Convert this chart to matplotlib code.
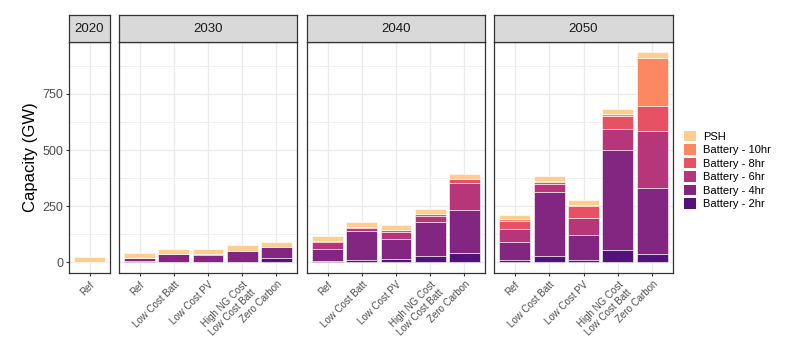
import matplotlib
matplotlib.use('Agg')
import matplotlib.pyplot as plt
from matplotlib.patches import Patch

years = ['2020', '2030', '2040', '2050']
scen_2020 = ['Ref']
scen_future = ['Ref', 'Low Cost Batt', 'Low Cost PV', 'High NG Cost\nLow Cost Batt', 'Zero Carbon']

techs = ['Battery - 2hr', 'Battery - 4hr', 'Battery - 6hr', 'Battery - 8hr', 'Battery - 10hr', 'PSH']
colors = ['#51127C', '#822681', '#B63679', '#E65164', '#FB8861', '#FECE91']

# GW per tech, one list per scenario
bat2 = {'2020': [1], '2030': [5, 3, 3, 4, 18], '2040': [6, 12, 16, 27, 41], '2050': [13, 27, 13, 56, 38]}
bat4 = {'2020': [2], '2030': [13, 34, 32, 49, 50], '2040': [53, 128, 88, 152, 193], '2050': [79, 288, 110, 444, 292]}
bat6 = {'2020': [0], '2030': [0, 0, 2, 0, 1], '2040': [32, 14, 31, 28, 118], '2050': [56, 36, 75, 92, 253]}
bat8 = {'2020': [0], '2030': [0, 0, 0, 0, 0], '2040': [3, 2, 9, 9, 21], '2050': [38, 9, 53, 60, 111]}
bat10 = {'2020': [0], '2030': [0, 0, 0, 0, 0], '2040': [0, 0, 0, 0, 0], '2050': [9, 4, 6, 9, 217]}
psh = {'2020': [23], '2030': [23, 24, 24, 24, 24], '2040': [24, 23, 22, 22, 21], '2050': [17, 22, 23, 21, 24]}
series = [bat2, bat4, bat6, bat8, bat10, psh]

W, H = 800, 351
fig = plt.figure(figsize=(W / 100, H / 100), dpi=100)
plt.rcParams['font.family'] = 'Liberation Sans'


def fx(px):
    return px / W


def fy(py):
    return 1 - py / H


panel_x = {'2020': (69, 110), '2030': (119, 297), '2040': (307, 485), '2050': (494, 673)}
top, bottom, strip_top = 41.7, 273, 15
ylim = (-46.75, 981.75)

for i, yr in enumerate(years):
    x0, x1 = panel_x[yr]
    ax = fig.add_axes([fx(x0), fy(bottom), fx(x1 - x0), fy(top) - fy(bottom)])
    scen = scen_2020 if yr == '2020' else scen_future
    xs = list(range(1, len(scen) + 1))
    base = [0] * len(scen)
    for tech, col, s in zip(techs, colors, series):
        vals = s[yr]
        ax.bar(xs, vals, bottom=base, width=0.9, color=col, edgecolor='white', linewidth=0.4)
        base = [b + v for b, v in zip(base, vals)]
    ax.set_xlim(0.4, len(scen) + 0.6)
    ax.set_ylim(*ylim)
    ax.set_yticks([0, 250, 500, 750])
    ax.set_yticks([125, 375, 625, 875], minor=True)
    ax.set_xticks(xs)
    ax.set_xticklabels(scen, rotation=45, ha='right', rotation_mode='anchor',
                       fontsize=7, color='#4D4D4D', linespacing=1.2)
    ax.grid(True, which='major', color='#EBEBEB', linewidth=0.9)
    ax.grid(True, which='minor', axis='y', color='#EBEBEB', linewidth=0.5)
    ax.set_axisbelow(True)
    ax.tick_params(axis='both', which='major', length=2.5, color='#333333', width=0.8)
    ax.tick_params(axis='y', which='minor', length=0)
    ax.tick_params(axis='y', labelsize=9, labelcolor='#4D4D4D', pad=1.5)
    ax.tick_params(axis='x', pad=2)
    for sp in ax.spines.values():
        sp.set_color('#333333')
        sp.set_linewidth(0.9)
    if i == 0:
        ax.set_ylabel('Capacity (GW)', fontsize=12, color='black', labelpad=3)
    else:
        ax.tick_params(axis='y', labelleft=False, left=False)

    sax = fig.add_axes([fx(x0), fy(top), fx(x1 - x0), fy(strip_top) - fy(top)])
    sax.set_facecolor('#D9D9D9')
    sax.set_xticks([])
    sax.set_yticks([])
    for sp in sax.spines.values():
        sp.set_color('#333333')
        sp.set_linewidth(0.9)
    sax.text(0.5, 0.47, yr, ha='center', va='center', fontsize=9.5, color='#1A1A1A', transform=sax.transAxes)

handles = [Patch(facecolor=c, edgecolor='none', label=t) for t, c in zip(techs, colors)][::-1]
fig.legend(handles=handles, loc='center left', bbox_to_anchor=(fx(680), fy(170)), frameon=False,
           fontsize=8, handlelength=1.0, handleheight=1.1, handletextpad=0.7, labelspacing=0.22,
           borderaxespad=0)

plt.savefig('out.png', dpi=100)
